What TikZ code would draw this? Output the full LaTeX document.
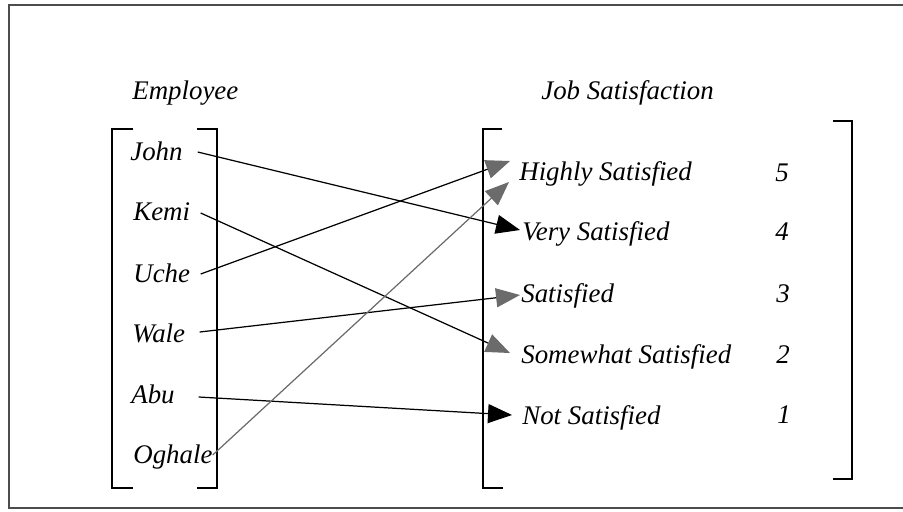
\documentclass[tikz,border=0pt]{standalone}
\usepackage{fontspec}
\setmainfont{Liberation Serif}
\usetikzlibrary{arrows.meta}
\definecolor{headgray}{gray}{0.42}
\definecolor{framegray}{gray}{0.3}
\begin{document}
\begin{tikzpicture}[x = 0.02cm, y = -0.02cm,
	every node/.style = {font = \fontsize{15.3}{18}\selectfont\itshape, inner sep = 0pt},
	who/.style = {anchor = base west, text width = 1.34cm, align = left},
	level/.style = {anchor = base west},
	link/.style = {line width = 0.7pt, -{Triangle[length = 4.8mm, width = 3.8mm]}},
	graylink/.style = {line width = 0.7pt, -{Triangle[length = 4.8mm, width = 3.8mm, color = headgray]}}]
	\useasboundingbox (0,0) rectangle (903,511);
	\draw[line width = 1.3pt, framegray] (903,5) -- (9,5) -- (9,508) -- (903,508);
	% headings
	\node[level] (emp) at (132,99) {Employee};
	\node[level] (job) at (541,99) {Job Satisfaction};
	% brackets
	\draw[line width = 0.8pt] (133,129) -- (112,129) -- (112,488) -- (133,488);
	\draw[line width = 0.8pt] (197,129) -- (217,129) -- (217,488) -- (197,488);
	\draw[line width = 0.8pt] (502,129) -- (483,129) -- (483,488) -- (503,488);
	\draw[line width = 0.8pt] (833,121) -- (852,121) -- (852,479) -- (833,479);
	% employees
	\node[who] (john) at (130,160) {John};
	\node[who] (kemi) at (133,220) {Kemi};
	\node[who] (uche) at (133,282) {Uche};
	\node[who] (wale) at (132,342) {Wale};
	\node[who] (abu) at (131,403) {Abu};
	\node[who, text width = 1.6cm] (oghale) at (133,463) {Oghale};
	% satisfaction levels
	\node[level] (hs) at (519,180) {Highly Satisfied};
	\node[level] (vs) at (522,240) {Very Satisfied};
	\node[level] (sa) at (521,302) {Satisfied};
	\node[level] (sw) at (521,363) {Somewhat Satisfied};
	\node[level] (ns) at (522,424) {Not Satisfied};
	\node[level] (five) at (775,181) {5};
	\node[level] (four) at (775,240) {4};
	\node[level] (three) at (776,302) {3};
	\node[level] (two) at (776,363) {2};
	\node[level] (one) at (777,423) {1};
	% mapping
	\draw[link] ([shift = {(0,-8)}]john.base east) -- ([shift = {(-2,-10)}]vs.base west);
	\draw[graylink] ([shift = {(0,-7)}]kemi.base east) -- ([shift = {(-11,-10)}]sw.base west);
	\draw[graylink] ([shift = {(0,-8)}]uche.base east) -- ([shift = {(-9,-19)}]hs.base west);
	\draw[graylink] ([shift = {(0,-10)}]wale.base east) -- ([shift = {(-1,-7)}]sa.base west);
	\draw[link] ([shift = {(0,-6)}]abu.base east) -- ([shift = {(-10,-9)}]ns.base west);
	\draw[graylink, draw = headgray] ([shift = {(-1,-8)}]oghale.base east) -- ([shift = {(-10,2)}]hs.base west);
\end{tikzpicture}
\end{document}
